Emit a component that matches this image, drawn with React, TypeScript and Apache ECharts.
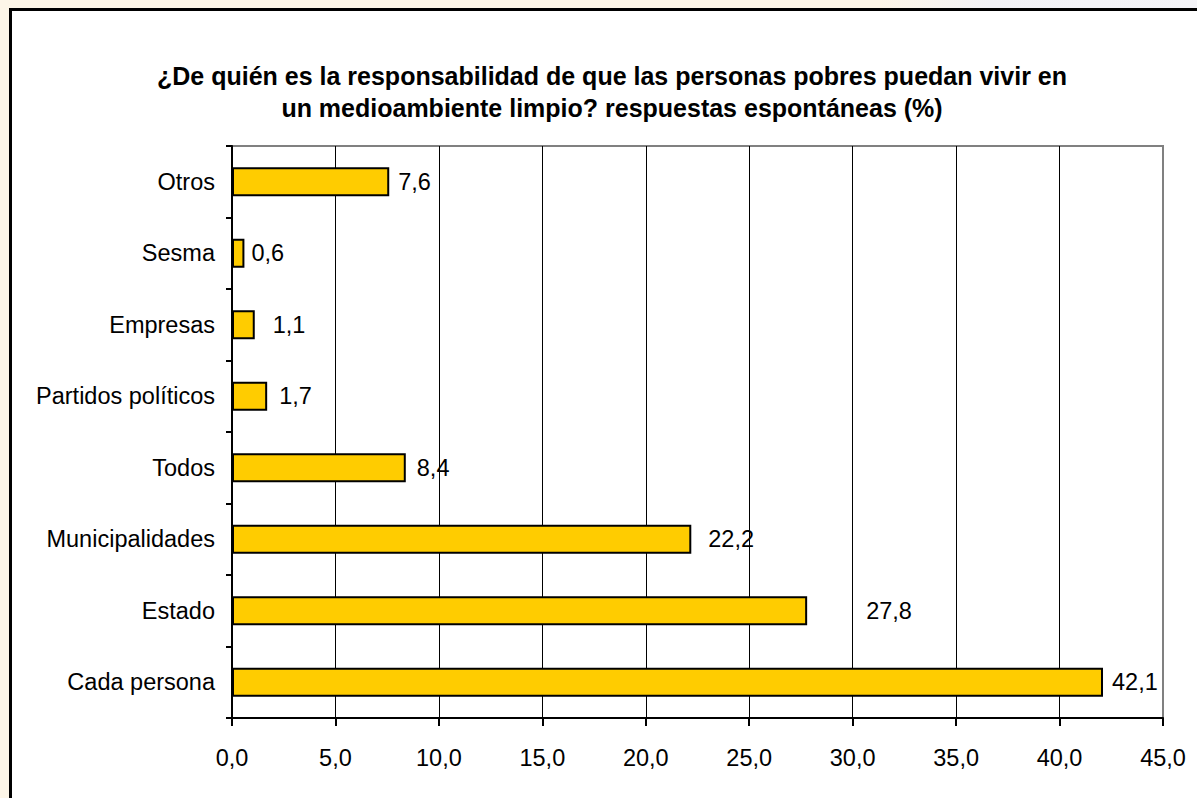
import React, { useEffect, useRef } from "react";
import * as echarts from "echarts";

const categories = [
  "Cada persona",
  "Estado",
  "Municipalidades",
  "Todos",
  "Partidos políticos",
  "Empresas",
  "Sesma",
  "Otros",
];
const values = [42.1, 27.8, 22.2, 8.4, 1.7, 1.1, 0.6, 7.6];
// gap between bar end and its value label (style)
const labelGaps = [9, 59, 17, 11, 12, 18, 7, 9];
const titleLines = [
  "¿De quién es la responsabilidad de que las personas pobres puedan vivir en",
  "un medioambiente limpio? respuestas espontáneas (%)",
];
const xMin = 0;
const xMax = 45;
const xStep = 5;

const FONT = '"Liberation Sans", Arial, sans-serif';
const fmt = (v: number) => v.toFixed(1).replace(".", ",");

export default function App() {
  const ref = useRef<HTMLDivElement>(null);
  useEffect(() => {
    document.body.style.margin = "0";
    if (!ref.current) return;
    const chart = echarts.init(ref.current, null, { renderer: "svg" });
    const splitColors: string[] = [];
    for (let v = xMin; v <= xMax; v += xStep) {
      splitColors.push(v === xMax ? "#808080" : "#000000");
    }
    chart.setOption({
      animation: false,
      backgroundColor: "#FDF6E8",
      graphic: [
        {
          type: "rect",
          shape: { x: 880, y: 0, width: 317, height: 9 },
          style: {
            fill: new echarts.graphic.LinearGradient(0, 0, 1, 0, [
              { offset: 0, color: "#FDF6E8" },
              { offset: 0.35, color: "#F2F2F6" },
              { offset: 1, color: "#F4F4F8" },
            ]),
          },
          z: -10,
        },
        {
          type: "rect",
          shape: { x: 10.5, y: 9.5, width: 1200, height: 800 },
          style: { fill: "#FFFFFF", stroke: "#000000", lineWidth: 3 },
          z: -5,
        },
      ],
      title: {
        text: titleLines.join("\n"),
        left: 607,
        top: 55,
        textAlign: "center",
        textStyle: {
          fontFamily: FONT,
          fontWeight: "bold",
          fontSize: 25,
          lineHeight: 32,
          color: "#000",
        },
      },
      grid: {
        left: 232,
        right: 34,
        top: 146,
        bottom: 80,
        show: true,
        backgroundColor: "#FFFFFF",
        borderColor: "#808080",
        borderWidth: 2,
      },
      xAxis: {
        type: "value",
        min: xMin,
        max: xMax,
        interval: xStep,
        axisLine: { show: true, lineStyle: { color: "#000", width: 2 } },
        axisTick: { show: true, length: 8, lineStyle: { color: "#000", width: 2 } },
        splitLine: { show: true, lineStyle: { color: splitColors, width: 1 } },
        axisLabel: {
          formatter: (v: number) => fmt(v),
          fontFamily: FONT,
          fontSize: 23.5,
          color: "#000",
          margin: 28,
        },
      },
      yAxis: {
        type: "category",
        data: categories,
        axisLine: { show: true, lineStyle: { color: "#000", width: 2 } },
        axisTick: { show: true, length: 6, lineStyle: { color: "#000", width: 2 } },
        axisLabel: {
          fontFamily: FONT,
          fontSize: 23.5,
          color: "#000",
          margin: 17,
        },
      },
      series: [
        {
          type: "bar",
          barWidth: 29,
          data: values.map((v, i) => ({
            value: v,
            label: { distance: labelGaps[i] },
          })),
          itemStyle: { color: "#FFCC00", borderColor: "#000", borderWidth: 2 },
          label: {
            show: true,
            position: "right",
            formatter: (p: any) => fmt(p.value),
            fontFamily: FONT,
            fontSize: 23.5,
            color: "#000",
          },
        },
      ],
    });
    return () => chart.dispose();
  }, []);
  return <div ref={ref} style={{ width: 1197, height: 798 }} />;
}
